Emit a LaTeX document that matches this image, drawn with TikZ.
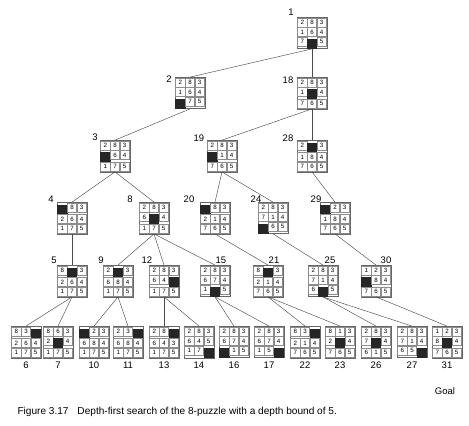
\documentclass[tikz,border=0pt]{standalone}
\usepackage{fontspec}
\setmainfont{Liberation Sans}
\usetikzlibrary{matrix}

\tikzset{
  puzzle/.style={matrix of nodes, ampersand replacement=\&, nodes in empty cells,
    draw=black!60, inner sep=0.5pt, column sep=0pt, row sep=0pt,
    nodes={draw=black!45, minimum width=9.3pt, minimum height=9pt, inner sep=0pt,
      font=\fontsize{6.2}{6}\selectfont}},
  blank/.style={fill=black!85, draw=black!85},
  lab/.style={font=\fontsize{9.5}{10}\selectfont},
  tree/.style={draw=black!70, line width=0.45pt}
}

\begin{document}
\begin{tikzpicture}[x=1pt, y=-1pt]
    \useasboundingbox (0,0) rectangle (469,426);
    % level 1 and 2
    \matrix(p1)[puzzle] at (312,33) {2 \& 8 \& 3 \\ 1 \& 6 \& 4 \\ 7 \& |[blank]| \& 5 \\};
    \matrix(p2)[puzzle] at (190,93) {2 \& 8 \& 3 \\ 1 \& 6 \& 4 \\ |[blank]| \& 7 \& 5 \\};
    \matrix(p18)[puzzle] at (312,93) {2 \& 8 \& 3 \\ 1 \& |[blank]| \& 4 \\ 7 \& 6 \& 5 \\};
    % level 3
    \matrix(p3)[puzzle] at (115,156) {2 \& 8 \& 3 \\ |[blank]| \& 6 \& 4 \\ 1 \& 7 \& 5 \\};
    \matrix(p19)[puzzle] at (222,156) {2 \& 8 \& 3 \\ |[blank]| \& 1 \& 4 \\ 7 \& 6 \& 5 \\};
    \matrix(p28)[puzzle] at (312,156) {2 \& |[blank]| \& 3 \\ 1 \& 8 \& 4 \\ 7 \& 6 \& 5 \\};
    % level 4
    \matrix(p4)[puzzle] at (72,218) {|[blank]| \& 8 \& 3 \\ 2 \& 6 \& 4 \\ 1 \& 7 \& 5 \\};
    \matrix(p8)[puzzle] at (154,218) {2 \& 8 \& 3 \\ 6 \& |[blank]| \& 4 \\ 1 \& 7 \& 5 \\};
    \matrix(p20)[puzzle] at (215,218) {|[blank]| \& 8 \& 3 \\ 2 \& 1 \& 4 \\ 7 \& 6 \& 5 \\};
    \matrix(p24)[puzzle] at (273,218) {2 \& 8 \& 3 \\ 7 \& 1 \& 4 \\ |[blank]| \& 6 \& 5 \\};
    \matrix(p29)[puzzle] at (335,218) {|[blank]| \& 2 \& 3 \\ 1 \& 8 \& 4 \\ 7 \& 6 \& 5 \\};
    % level 5
    \matrix(p5)[puzzle] at (72,281) {8 \& |[blank]| \& 3 \\ 2 \& 6 \& 4 \\ 1 \& 7 \& 5 \\};
    \matrix(p9)[puzzle] at (118,281) {2 \& |[blank]| \& 3 \\ 6 \& 8 \& 4 \\ 1 \& 7 \& 5 \\};
    \matrix(p12)[puzzle] at (164,281) {2 \& 8 \& 3 \\ 6 \& 4 \& |[blank]| \\ 1 \& 7 \& 5 \\};
    \matrix(p15)[puzzle] at (215,281) {2 \& 8 \& 3 \\ 6 \& 7 \& 4 \\ 1 \& |[blank]| \& 5 \\};
    \matrix(p21)[puzzle] at (268,281) {8 \& |[blank]| \& 3 \\ 2 \& 1 \& 4 \\ 7 \& 6 \& 5 \\};
    \matrix(p25)[puzzle] at (323,281) {2 \& 8 \& 3 \\ 7 \& 1 \& 4 \\ 6 \& |[blank]| \& 5 \\};
    \matrix(p30)[puzzle] at (376,281) {1 \& 2 \& 3 \\ |[blank]| \& 8 \& 4 \\ 7 \& 6 \& 5 \\};
    % level 6
    \matrix(p6)[puzzle] at (26,342) {8 \& 3 \& |[blank]| \\ 2 \& 6 \& 4 \\ 1 \& 7 \& 5 \\};
    \matrix(p7)[puzzle] at (58,342) {8 \& 6 \& 3 \\ 2 \& |[blank]| \& 4 \\ 1 \& 7 \& 5 \\};
    \matrix(p10)[puzzle] at (94,342) {|[blank]| \& 2 \& 3 \\ 6 \& 8 \& 4 \\ 1 \& 7 \& 5 \\};
    \matrix(p11)[puzzle] at (128,342) {2 \& 3 \& |[blank]| \\ 6 \& 8 \& 4 \\ 1 \& 7 \& 5 \\};
    \matrix(p13)[puzzle] at (164,342) {2 \& 8 \& |[blank]| \\ 6 \& 4 \& 3 \\ 1 \& 7 \& 5 \\};
    \matrix(p14)[puzzle] at (199,342) {2 \& 8 \& 3 \\ 6 \& 4 \& 5 \\ 1 \& 7 \& |[blank]| \\};
    \matrix(p16)[puzzle] at (234,342) {2 \& 8 \& 3 \\ 6 \& 7 \& 4 \\ |[blank]| \& 1 \& 5 \\};
    \matrix(p17)[puzzle] at (269,342) {2 \& 8 \& 3 \\ 6 \& 7 \& 4 \\ 1 \& 5 \& |[blank]| \\};
    \matrix(p22)[puzzle] at (305,342) {8 \& 3 \& |[blank]| \\ 2 \& 1 \& 4 \\ 7 \& 6 \& 5 \\};
    \matrix(p23)[puzzle] at (340,342) {8 \& 1 \& 3 \\ 2 \& |[blank]| \& 4 \\ 7 \& 6 \& 5 \\};
    \matrix(p26)[puzzle] at (376,342) {2 \& 8 \& 3 \\ 7 \& |[blank]| \& 4 \\ 6 \& 1 \& 5 \\};
    \matrix(p27)[puzzle] at (412,342) {2 \& 8 \& 3 \\ 7 \& 1 \& 4 \\ 6 \& 5 \& |[blank]| \\};
    \matrix(p31)[puzzle] at (447,342) {1 \& 2 \& 3 \\ 8 \& |[blank]| \& 4 \\ 7 \& 6 \& 5 \\};

    % order labels
    \node[lab] (l1) at (291,12) {1};
    \node[lab] (l2) at (169,79) {2};
    \node[lab] (l18) at (288,80) {18};
    \node[lab] (l3) at (95,137) {3};
    \node[lab] (l19) at (199,138) {19};
    \node[lab] (l28) at (288,138) {28};
    \node[lab] (l4) at (51,199) {4};
    \node[lab] (l8) at (130,199) {8};
    \node[lab] (l20) at (189,199) {20};
    \node[lab] (l24) at (256,199) {24};
    \node[lab] (l29) at (316,199) {29};
    \node[lab] (l5) at (54,260) {5};
    \node[lab] (l9) at (101,260) {9};
    \node[lab] (l12) at (147,260) {12};
    \node[lab] (l15) at (221,260) {15};
    \node[lab] (l21) at (274,260) {21};
    \node[lab] (l25) at (330,260) {25};
    \node[lab] (l30) at (386,260) {30};
    \node[lab] (l6) at (26,365) {6};
    \node[lab] (l7) at (58,365) {7};
    \node[lab] (l10) at (94,365) {10};
    \node[lab] (l11) at (128,365) {11};
    \node[lab] (l13) at (164,365) {13};
    \node[lab] (l14) at (199,365) {14};
    \node[lab] (l16) at (234,365) {16};
    \node[lab] (l17) at (269,365) {17};
    \node[lab] (l22) at (305,365) {22};
    \node[lab] (l23) at (340,365) {23};
    \node[lab] (l26) at (376,365) {26};
    \node[lab] (l27) at (412,365) {27};
    \node[lab] (l31) at (447,365) {31};
    \node[lab] (goal) at (445,391) {Goal};
    \node[lab, anchor=west, font=\fontsize{10.1}{11}\selectfont] (caption) at (14,412)
      {Figure 3.17\hspace{0.6em} Depth-first search of the 8-puzzle with a depth bound of 5.};

    % search tree
    \path[draw, tree] (p1.south) -- (p2.north);
    \path[draw, tree] (p1.south) -- (p18.north);
    \path[draw, tree] (p2.south) -- (p3.north);
    \path[draw, tree] (p18.south) -- (p19.north);
    \path[draw, tree] (p18.south) -- (p28.north);
    \path[draw, tree] (p3.south) -- (p4.north);
    \path[draw, tree] (p3.south) -- (p8.north);
    \path[draw, tree] (p19.south) -- (p20.north);
    \path[draw, tree] (p19.south) -- (p24.north);
    \path[draw, tree] (p28.south) -- (p29.north);
    \path[draw, tree] (p4.south) -- (p5.north);
    \path[draw, tree] (p8.south) -- (p9.north);
    \path[draw, tree] (p8.south) -- (p12.north);
    \path[draw, tree] (p8.south) -- (p15.north);
    \path[draw, tree] (p20.south) -- (p21.north);
    \path[draw, tree] (p24.south) -- (p25.north);
    \path[draw, tree] (p29.south) -- (p30.north);
    \path[draw, tree] (p5.south) -- (p6.north);
    \path[draw, tree] (p5.south) -- (p7.north);
    \path[draw, tree] (p9.south) -- (p10.north);
    \path[draw, tree] (p9.south) -- (p11.north);
    \path[draw, tree] (p12.south) -- (p13.north);
    \path[draw, tree] (p12.south) -- (p14.north);
    \path[draw, tree] (p15.south) -- (p16.north);
    \path[draw, tree] (p15.south) -- (p17.north);
    \path[draw, tree] (p21.south) -- (p22.north);
    \path[draw, tree] (p21.south) -- (p23.north);
    \path[draw, tree] (p25.south) -- (p26.north);
    \path[draw, tree] (p25.south) -- (p27.north);
    \path[draw, tree] (p30.south) -- (p31.north);
  \end{tikzpicture}
\end{document}
